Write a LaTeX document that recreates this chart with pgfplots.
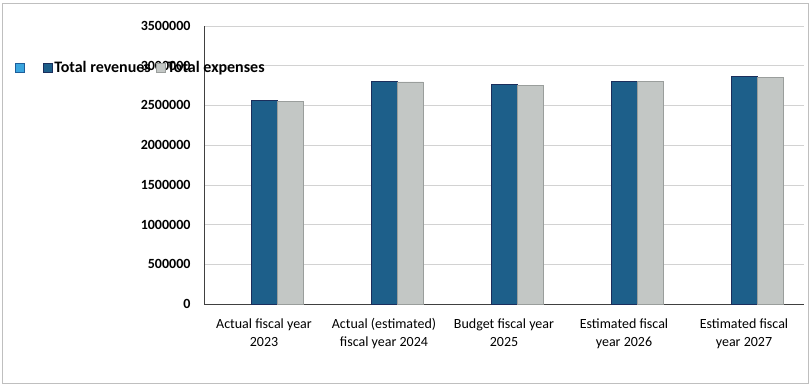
\documentclass[border=0pt]{standalone}
\usepackage{fontspec}
\setmainfont{Carlito}
\usepackage{pgfplots}
\pgfplotsset{compat=1.18}
\definecolor{rev}{HTML}{1D5F8A}
\definecolor{revedge}{HTML}{1B2E5C}
\definecolor{exp}{HTML}{C3C7C5}
\definecolor{expedge}{HTML}{9A9E9C}
\definecolor{lb}{HTML}{3AA5DE}
\definecolor{lbedge}{HTML}{1E5E9A}
\begin{document}
\begin{tikzpicture}[font=\fontsize{14pt}{17pt}\selectfont]
\path[use as bounding box] (0,0) rectangle (811pt,389pt);
\draw[gray!50, line width=0.6pt] (2pt,6pt) rectangle (808pt,386pt);
\begin{axis}[
  at={(204pt,85pt)}, anchor=south west,
  scale only axis, width=600pt, height=278pt,
  xmin=-0.5, xmax=4.5, ymin=0, ymax=3500000,
  ytick={0,500000,...,3500000},
  scaled y ticks=false,
  /pgf/number format/.cd, fixed, 1000 sep={}, assume math mode=true,
  /pgfplots/.cd,
  yticklabel style={font=\fontsize{14pt}{17pt}\selectfont\bfseries, xshift=-10pt},
  xtick={0,1,2,3,4},
  xticklabels={{Actual fiscal year\\2023},{Actual (estimated)\\fiscal year 2024},{Budget fiscal year\\2025},{Estimated fiscal\\year 2026},{Estimated fiscal\\year 2027}},
  xticklabel style={align=center, font=\fontsize{14pt}{18pt}\selectfont, yshift=-11pt},
  major tick length=0pt,
  axis lines*=left,
  axis line style={draw=black!75, line width=0.8pt},
  ymajorgrids, grid style={draw=gray!35, line width=0.6pt},
  ybar, bar width=26pt,
  legend columns=3,
  legend style={at={(axis description cs:0,1)}, anchor=west, xshift=-189pt, yshift=-42pt,
    draw=none, fill=none, inner sep=0pt, font=\fontsize{16pt}{19pt}\selectfont\bfseries,
    /tikz/every even column/.append style={column sep=4pt},
    nodes={inner sep=1.5pt}},
  legend image code/.code={\draw[#1] (0pt,-4.5pt) rectangle (9pt,4.5pt);},
]
\addlegendimage{fill=lb, draw=lbedge, line width=0.8pt}
\addlegendentry{\rule{11pt}{0pt}}
\addplot[fill=rev, draw=revedge, line width=0.8pt, bar shift=0pt] coordinates {
  (0,2563000) (1,2805000) (2,2764000) (3,2805000) (4,2864000)};
\addlegendentry{Total revenues}
\addplot[fill=exp, draw=expedge, line width=0.6pt, bar shift=26pt] coordinates {
  (0,2552000) (1,2797000) (2,2755000) (3,2798000) (4,2852000)};
\addlegendentry{Total expenses}
\end{axis}
\end{tikzpicture}
\end{document}
